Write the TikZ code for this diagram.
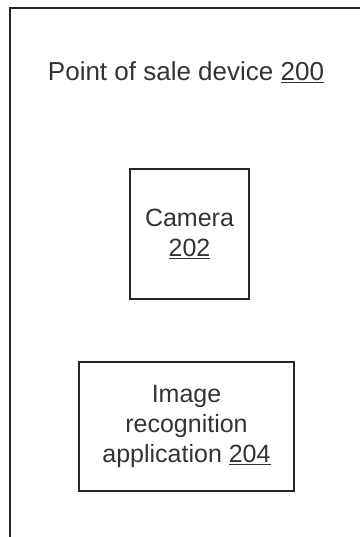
\documentclass[tikz,border=0pt]{standalone}
\usepackage{fontspec}
\setmainfont{Liberation Sans}
\usetikzlibrary{positioning}

\begin{document}
\begin{tikzpicture}[
    x=1pt, y=-1pt,
    frame/.style = {draw=black!85, line width=1.6pt},
    label/.style = {text=black!80, font=\fontsize{26}{30}\selectfont, align=center, inner sep=0pt},
    unit/.style = {rectangle, draw=black!85, line width=1.6pt, text=black!80, font=\fontsize{25}{30}\selectfont, align=center, inner sep=0pt}
]
    \useasboundingbox (0,0) rectangle (359,537);

    % Device outline
    \coordinate (frametop) at (10,8);
    \draw [frame] (10,545) -- (frametop) -- (365,8);

    % Nodes
    \node [label, anchor=base] (device) at (186,81) {Point of sale device \underline{200}};
    \node [unit, minimum width=119pt, minimum height=130pt] (camera) at (189.5,234) {Camera\\\underline{202}};
    \node [unit, minimum width=215pt, minimum height=129pt] (recognition) at (186.5,426.5) {Image\\recognition\\application \underline{204}};

\end{tikzpicture}
\end{document}
